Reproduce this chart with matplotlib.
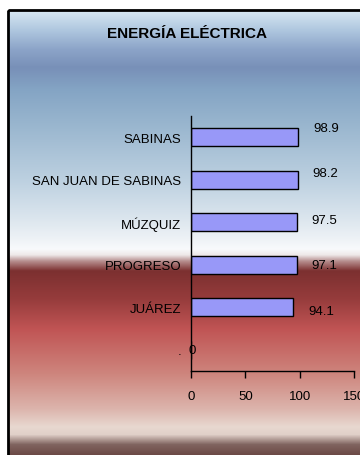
import numpy as np
import matplotlib
matplotlib.use('Agg')
import matplotlib.pyplot as plt
from matplotlib.colors import to_rgb
from matplotlib.patches import Rectangle

# data (bottom to top, as drawn)
municipios = ['.', 'JUÁREZ', 'PROGRESO', 'MÚZQUIZ', 'SAN JUAN DE SABINAS', 'SABINAS']
valores = [0, 94.1, 97.1, 97.5, 98.2, 98.9]
x_ticks = [0, 50, 100, 150]

# little vertical nudges of the value labels (points), like the original
label_dy = [0, -3, 0, 1.5, 5, 6.5]

plt.rcParams['font.family'] = ['Liberation Sans', 'DejaVu Sans']

fig = plt.figure(figsize=(3.6, 4.56), dpi=100)

# background gradient + frame
bg = fig.add_axes([0, 0, 1, 1])
bg.set_xlim(0, 360)
bg.set_ylim(456, 0)
bg.axis('off')
stops = [(12, '#d6e6f2'), (30, '#b0c8e0'), (50, '#8ca4c8'), (68, '#7890b8'),
         (90, '#84a4c4'), (130, '#9cb8d0'), (180, '#bcd0e0'), (220, '#dce6ee'),
         (240, '#eef2f6'), (250, '#f8fafc'), (256, '#eee8e8'), (262, '#b89090'),
         (272, '#7c3030'), (300, '#963c3c'), (330, '#c05454'), (375, '#ce857d'),
         (410, '#dcb4ac'), (428, '#e8d8d0'), (436, '#e0d0c8'), (446, '#806460'),
         (456, '#6c4a46')]
ys = np.arange(12, 457)
sy = [s[0] for s in stops]
cols = np.array([to_rgb(s[1]) for s in stops])
grad = np.stack([np.interp(ys, sy, cols[:, k]) for k in range(3)], axis=1)
bg.imshow(grad[:, None, :], extent=[9, 360, 456, 12], aspect='auto', interpolation='bilinear')
bg.add_patch(Rectangle((8, 11), 400, 500, fill=False, lw=2, ec='black'))
bg.text(187, 34, 'ENERGÍA ELÉCTRICA', ha='center', va='center', fontsize=11,
        fontweight='bold')

# chart
ax = fig.add_axes([191/360, 1 - 372/456, 163/360, 255/456])
ax.set_facecolor('none')
pos = np.arange(len(municipios))
ax.barh(pos, valores, height=0.42, color='#9898f8', edgecolor='black', linewidth=1)
ax.set_xlim(0, 150)
ax.set_ylim(-0.5, len(municipios) - 0.5)
ax.set_xticks(x_ticks)
ax.set_xticklabels([str(t) for t in x_ticks], fontsize=9.5)
ax.set_yticks(pos)
ax.set_yticklabels(municipios, fontsize=9.5)
ax.tick_params(axis='y', length=0, pad=7)
ax.tick_params(axis='x', length=5, direction='out', pad=9, width=1)
for s in ['top', 'right']:
    ax.spines[s].set_visible(False)
for s in ['left', 'bottom']:
    ax.spines[s].set_linewidth(1)

for p, v, dy in zip(pos, valores, label_dy):
    if v == 0:
        ax.annotate(str(v), (v, p), xytext=(1, 0), textcoords='offset points',
                    ha='center', va='center', fontsize=9.5)
    else:
        ax.annotate(f'{v:.1f}', (v, p), xytext=(20, dy), textcoords='offset points',
                    ha='center', va='center', fontsize=9.5)

fig.savefig('out.png', dpi=100)
